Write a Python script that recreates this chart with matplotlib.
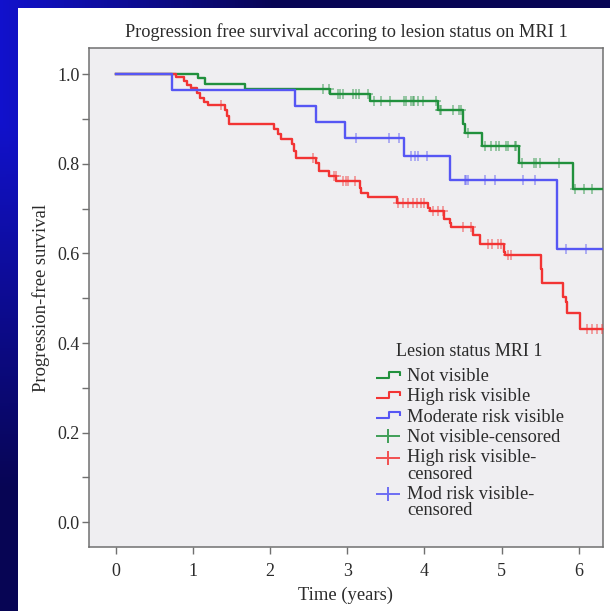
import matplotlib

matplotlib.use("Agg")

import matplotlib.pyplot as plt
import numpy as np
from matplotlib.legend_handler import HandlerLine2D
from matplotlib.lines import Line2D
from matplotlib.patches import Rectangle
from matplotlib.path import Path

plt.rcParams["font.family"] = ["Liberation Serif", "DejaVu Serif"]

INK = "#2b2b2b"
SPINE = "#707070"
PLOT_BG = "#efeef1"
GREEN = "#21903d"
RED = "#f23434"
BLUE = "#5656f4"

# Kaplan-Meier curves: step times (years) and survival level after each step
green_times = [0, 1.06, 1.16, 1.68, 2.78, 3.30, 4.18, 4.50, 4.52, 4.75, 5.22, 5.92]
green_surv = [1.0, 0.992, 0.978, 0.967, 0.955, 0.940, 0.920, 0.889, 0.869, 0.841, 0.802, 0.745]
green_censored = [2.68, 2.77, 2.88, 2.90, 2.94, 3.07, 3.12, 3.15, 3.27, 3.35, 3.44, 3.55,
                  3.74, 3.76, 3.83, 3.85, 3.87, 3.92, 3.98, 4.15, 4.20, 4.22, 4.37, 4.45,
                  4.48, 4.56, 4.78, 4.86, 4.93, 4.97, 5.06, 5.08, 5.17, 5.19, 5.27, 5.42,
                  5.45, 5.50, 5.74, 5.95, 6.07, 6.17]

red_times = [0, 0.78, 0.88, 0.93, 0.97, 1.05, 1.09, 1.15, 1.20, 1.41, 1.44, 1.47, 2.05,
             2.10, 2.14, 2.28, 2.31, 2.33, 2.60, 2.63, 2.76, 2.86, 3.16, 3.18, 3.27, 3.64,
             4.05, 4.07, 4.26, 4.33, 4.35, 4.63, 4.72, 5.03, 5.05, 5.51, 5.53, 5.80, 5.83,
             5.85, 6.01]
red_surv = [1.0, 0.993, 0.986, 0.977, 0.970, 0.958, 0.947, 0.938, 0.931, 0.921, 0.906,
            0.888, 0.877, 0.866, 0.856, 0.845, 0.829, 0.814, 0.802, 0.784, 0.773, 0.762,
            0.747, 0.736, 0.725, 0.713, 0.702, 0.695, 0.678, 0.668, 0.659, 0.641, 0.621,
            0.604, 0.597, 0.565, 0.534, 0.502, 0.491, 0.468, 0.431]
red_censored = [1.36, 2.55, 2.83, 2.85, 2.95, 2.99, 3.01, 3.10, 3.66, 3.72, 3.79, 3.85,
                3.91, 3.96, 4.00, 4.11, 4.17, 4.24, 4.50, 4.61, 4.82, 4.88, 4.95, 4.99,
                5.08, 5.12, 6.11, 6.17, 6.24, 6.30]

blue_times = [0, 0.73, 2.32, 2.59, 2.97, 3.74, 4.33, 5.72]
blue_surv = [1.0, 0.965, 0.930, 0.894, 0.857, 0.817, 0.764, 0.610]
blue_censored = [3.12, 3.54, 3.67, 3.83, 3.88, 3.92, 4.03, 4.52, 4.54, 4.56, 4.78, 4.91,
                 5.28, 5.43, 5.84, 6.09]

last_followup = [6.32, 6.30, 6.32]

line_labels = ["Not visible", "High risk visible", "Moderate risk visible"]
censor_labels = ["Not visible-censored", "High risk visible-\ncensored",
                 "Mod risk visible-\ncensored"]
x_ticks = [0, 1, 2, 3, 4, 5, 6]
y_ticks = [0.0, 0.2, 0.4, 0.6, 0.8, 1.0]

FS = 13.2


def step_marker():
    verts = [(-1, -0.28), (0.11, -0.28), (0.11, 0.28), (1, 0.28), (1, -0.05)]
    codes = [Path.MOVETO] + [Path.LINETO] * 4
    return Path(verts, codes)


def plus_marker():
    verts = [(-1, 0), (1, 0), (0, -0.62), (0, 0.62)]
    codes = [Path.MOVETO, Path.LINETO, Path.MOVETO, Path.LINETO]
    return Path(verts, codes)


class FirstLineHandler(HandlerLine2D):
    # put the symbol next to the first line of a two-line label
    def create_artists(self, legend, orig_handle, xdescent, ydescent, width, height,
                       fontsize, trans):
        return super().create_artists(legend, orig_handle, xdescent,
                                      ydescent - 0.9 * fontsize, width, height,
                                      fontsize, trans)


fig = plt.figure(figsize=(6.10, 6.11), dpi=100)

# slide background: blue gradient with white card
bg = fig.add_axes([0, 0, 1, 1], zorder=-2)
yy, xx = np.mgrid[0:1:200j, 0:1:200j]
w = np.sqrt((xx / 0.45) ** 2 + (np.clip(yy - 0.2, 0, None) / 0.6) ** 2)
w = np.clip(w, 0, 1)[..., None]
c1 = np.array([0.07, 0.07, 0.80])
c2 = np.array([0.03, 0.02, 0.33])
bg.imshow(c1 * (1 - w) + c2 * w, aspect="auto", extent=[0, 1, 0, 1], origin="upper")
bg.add_patch(Rectangle((18 / 610, 0), 1, 1 - 7.5 / 611, color="white", lw=0))
bg.set_xlim(0, 1)
bg.set_ylim(0, 1)
bg.axis("off")

ax = fig.add_axes([89.3 / 610, 1 - 547.3 / 611, 513.4 / 610, 499.0 / 611])
ax.set_facecolor(PLOT_BG)

groups = [
    (green_times, green_surv, green_censored, GREEN),
    (red_times, red_surv, red_censored, RED),
    (blue_times, blue_surv, blue_censored, BLUE),
]
for (times, surv, cens, color), end in zip(groups, last_followup):
    t = np.array(times + [end])
    s = np.array(surv + [surv[-1]])
    ax.step(t, s, where="post", color=color, linewidth=1.7, zorder=3)
    cens = np.array(cens)
    idx = np.searchsorted(np.array(times), cens, side="right") - 1
    ax.plot(cens, np.array(surv)[idx], linestyle="none", marker="+", markersize=7,
            markeredgewidth=1.1, color=color, alpha=0.55, zorder=4)

ax.set_xlim(-0.342, 6.31)
ax.set_ylim(-0.056, 1.058)
ax.set_xticks(x_ticks)
ax.set_yticks(y_ticks)
ax.set_yticklabels([f"{v:.1f}" for v in y_ticks])
ax.set_yticks(np.arange(0.1, 1.0, 0.2), minor=True)
ax.tick_params(axis="both", which="both", direction="out", length=5, width=1.0,
               color=SPINE, labelcolor=INK, labelsize=13)
ax.tick_params(axis="y", pad=2)
ax.tick_params(axis="x", pad=6)
for spine in ax.spines.values():
    spine.set_color(SPINE)
    spine.set_linewidth(1.1)

ax.set_title("Progression free survival accoring to lesion status on MRI 1",
             fontsize=FS, color=INK, pad=8)
ax.set_xlabel("Time (years)", fontsize=13.4, color=INK, labelpad=5)
ax.set_ylabel("Progression-free survival", fontsize=13.4, color=INK, labelpad=5)

handles = []
for color, label in zip([GREEN, RED, BLUE], line_labels):
    handles.append(Line2D([], [], color=color, marker=step_marker(), linestyle="none",
                          markersize=17, markerfacecolor="none", markeredgewidth=1.5,
                          label=label))
for color, label in zip([GREEN, RED, BLUE], censor_labels):
    handles.append(Line2D([], [], color=color, marker=plus_marker(), linestyle="none",
                          markersize=17, markeredgewidth=1.4, alpha=0.85, label=label))

leg = ax.legend(handles=handles, title="Lesion status MRI 1", loc="upper left",
                bbox_to_anchor=(0.556, 0.41), frameon=False, fontsize=FS,
                title_fontsize=13, handlelength=1.45, handletextpad=0.3,
                labelspacing=0.18, borderpad=0, borderaxespad=0,
                handler_map={handles[4]: FirstLineHandler(),
                             handles[5]: FirstLineHandler()})
leg._legend_box.sep = 6
for txt in leg.get_texts():
    txt.set_color(INK)
    txt.set_linespacing(0.95)
leg.get_title().set_color(INK)

fig.savefig("out.png", dpi=100)
